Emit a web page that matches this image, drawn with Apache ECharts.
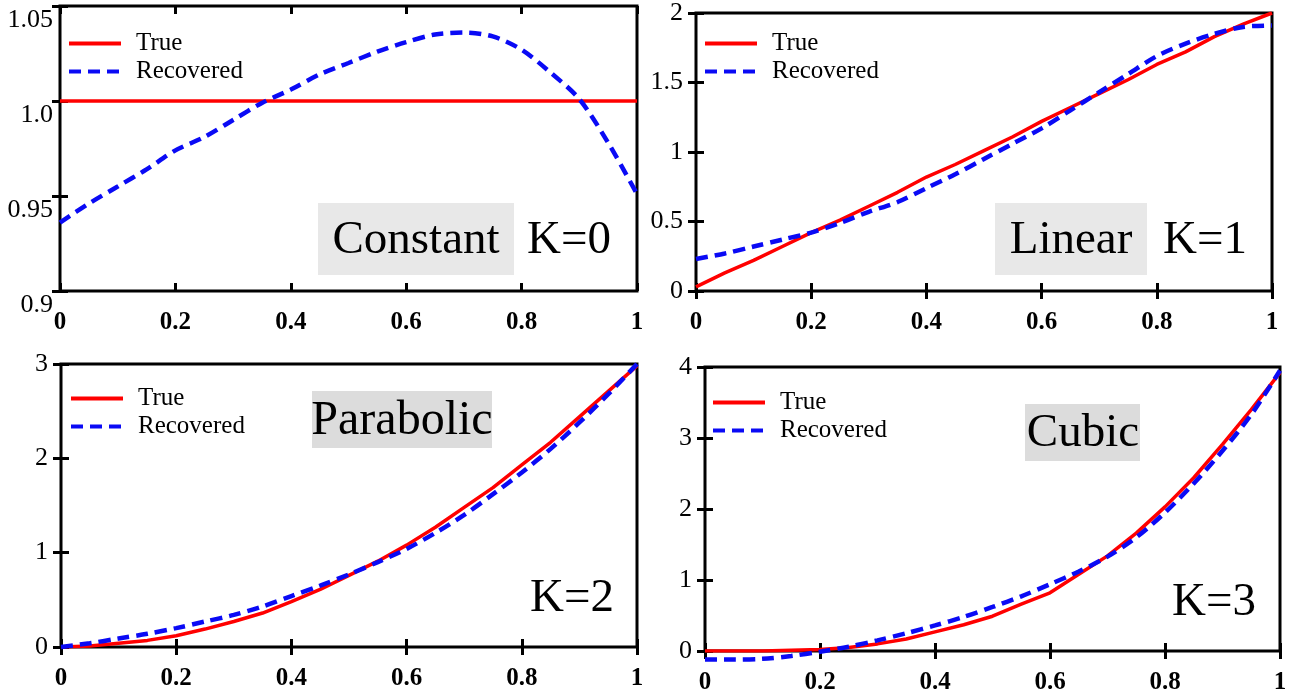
<!DOCTYPE html>
<html>
<head>
<meta charset="utf-8">
<script src="https://cdn.jsdelivr.net/npm/echarts@6/dist/echarts.min.js"></script>
<style>
html,body{margin:0;padding:0;background:#fff;}
#main{width:1297px;height:695px;}
</style>
</head>
<body>
<div id="main"></div>
<script>
// x positions shared by every panel
var xs = [0, 0.05, 0.1, 0.15, 0.2, 0.25, 0.3, 0.35, 0.4, 0.45, 0.5, 0.55, 0.6, 0.65, 0.7, 0.75, 0.8, 0.85, 0.9, 0.95, 1];
var xTicks = ['0', '0.2', '0.4', '0.6', '0.8', '1'];

// K=0 constant
var trueK0 = [1, 1, 1, 1, 1, 1, 1, 1, 1, 1, 1, 1, 1, 1, 1, 1, 1, 1, 1, 1, 1];
var recK0 = [0.936, 0.946, 0.955, 0.964, 0.974, 0.981, 0.990, 0.999, 1.006, 1.014, 1.020, 1.026, 1.031, 1.035, 1.036, 1.034, 1.027, 1.015, 1.001, 0.978, 0.951];
var yTicksK0 = ['0.9', '0.95', '1.0', '1.05'];

// K=1 linear
var trueK1 = [0.03, 0.13, 0.22, 0.32, 0.42, 0.51, 0.61, 0.71, 0.82, 0.91, 1.01, 1.11, 1.22, 1.32, 1.42, 1.52, 1.63, 1.72, 1.83, 1.92, 2.0];
var recK1 = [0.23, 0.27, 0.32, 0.37, 0.42, 0.49, 0.57, 0.64, 0.74, 0.84, 0.95, 1.06, 1.17, 1.30, 1.43, 1.56, 1.69, 1.78, 1.85, 1.90, 1.91];
var yTicksK1 = ['0', '0.5', '1', '1.5', '2'];

// K=2 parabolic
var trueK2 = [0, 0.01, 0.04, 0.07, 0.12, 0.19, 0.27, 0.36, 0.48, 0.61, 0.76, 0.91, 1.08, 1.27, 1.48, 1.69, 1.93, 2.17, 2.44, 2.71, 2.98];
var recK2 = [0, 0.04, 0.09, 0.14, 0.20, 0.27, 0.34, 0.43, 0.54, 0.65, 0.77, 0.90, 1.04, 1.21, 1.40, 1.62, 1.85, 2.10, 2.38, 2.68, 3.0];
var yTicksK2 = ['0', '1', '2', '3'];

// K=3 cubic
var trueK3 = [0, 0, 0, 0.01, 0.02, 0.05, 0.10, 0.17, 0.27, 0.37, 0.49, 0.66, 0.82, 1.08, 1.34, 1.66, 2.03, 2.44, 2.91, 3.40, 3.92];
var recK3 = [-0.12, -0.12, -0.11, -0.07, -0.01, 0.06, 0.15, 0.25, 0.36, 0.48, 0.62, 0.77, 0.94, 1.12, 1.33, 1.60, 1.95, 2.36, 2.82, 3.33, 3.95];
var yTicksK3 = ['0', '1', '2', '3', '4'];

var FONT = '"Liberation Serif", "DejaVu Serif", serif';

var panels = [
  { grid: { left: 60, top: 6, width: 577, height: 285 }, min: 0.9, max: 1.05, step: 0.05, ticks: yTicksK0, t: trueK0, r: recK0, topAlign: true, legend: { left: 67, top: 31 } },
  { grid: { left: 696, top: 7, width: 576, height: 284 }, min: 0, max: 2, step: 0.5, ticks: yTicksK1, t: trueK1, r: recK1, legend: { left: 703, top: 31 } },
  { grid: { left: 61, top: 364, width: 576, height: 283 }, min: 0, max: 3, step: 1, ticks: yTicksK2, t: trueK2, r: recK2, legend: { left: 69, top: 386 } },
  { grid: { left: 705, top: 367, width: 575, height: 285 }, min: 0, max: 4, step: 1, ticks: yTicksK3, t: trueK3, r: recK3, legend: { left: 711, top: 390 } }
];

function pairs(ys) {
  return xs.map(function (x, i) { return [x, ys[i]]; });
}

function tickLabel(list) {
  return function (v) {
    for (var i = 0; i < list.length; i++) {
      if (Math.abs(parseFloat(list[i]) - v) < 1e-6) return list[i];
    }
    return '';
  };
}

var grids = [], xAxes = [], yAxes = [], series = [], legends = [];
var tick = { show: true, inside: true, length: 8, lineStyle: { color: '#000', width: 3 } };

panels.forEach(function (p, i) {
  grids.push({ left: p.grid.left, top: p.grid.top, width: p.grid.width, height: p.grid.height,
    show: true, borderColor: '#000', borderWidth: 3, backgroundColor: '#fff' });

  xAxes.push({ type: 'value', gridIndex: i, min: 0, max: 1, interval: 0.2, position: 'bottom',
    axisLine: { show: false }, axisTick: tick, splitLine: { show: false },
    axisLabel: { margin: 19, fontFamily: FONT, fontSize: 25, fontWeight: 'bold', color: '#000', formatter: tickLabel(xTicks) } });
  xAxes.push({ type: 'value', gridIndex: i, min: 0, max: 1, interval: 0.2, position: 'top',
    axisLine: { show: false }, axisTick: tick, splitLine: { show: false }, axisLabel: { show: false } });

  yAxes.push({ type: 'value', gridIndex: i, min: p.min, max: p.max, interval: p.step, position: 'left',
    axisLine: { show: false }, axisTick: tick, splitLine: { show: false },
    axisLabel: { margin: p.topAlign ? 7 : 13, fontFamily: FONT, fontSize: 26, color: '#000',
      verticalAlign: p.topAlign ? 'top' : 'middle', padding: p.topAlign ? [1, 0, 0, 0] : 0,
      formatter: tickLabel(p.ticks) } });
  yAxes.push({ type: 'value', gridIndex: i, min: p.min, max: p.max, interval: p.step, position: 'right',
    axisLine: { show: false }, axisTick: tick, splitLine: { show: false }, axisLabel: { show: false } });

  series.push({ name: 'True', type: 'line', xAxisIndex: 2 * i, yAxisIndex: 2 * i, data: pairs(p.t),
    symbol: 'none', lineStyle: { color: '#ff0000', width: 3.5 }, itemStyle: { color: '#ff0000' }, z: 3 });
  series.push({ name: 'Recovered', type: 'line', xAxisIndex: 2 * i, yAxisIndex: 2 * i, data: pairs(p.r),
    symbol: 'none', smooth: 0.3, clip: false, lineStyle: { color: '#0a0af5', width: 4.5, type: [12, 7] }, itemStyle: { color: '#0a0af5' }, z: 4 });

  legends.push({ left: p.legend.left, top: p.legend.top, orient: 'vertical', padding: 0,
    itemWidth: 52, itemHeight: 14, itemGap: 3, data: ['True', 'Recovered'],
    itemStyle: { opacity: 0 },
    lineStyle: { width: 4 },
    textStyle: { fontFamily: FONT, fontSize: 25, color: '#000', padding: [0, 0, 0, 10] } });
});

function label(text, cx, cy, size, align) {
  return { type: 'text', x: cx, y: cy, z: 20,
    style: { text: text, font: size + 'px ' + FONT, fill: '#000', align: align || 'center', verticalAlign: 'middle' } };
}
function box(x, y, w, h, fill) {
  return { type: 'rect', shape: { x: x, y: y, width: w, height: h }, style: { fill: fill }, z: 19 };
}

var graphics = [
  box(318, 203, 196, 72, '#e8e8e8'), label('Constant', 416, 241, 47), label('K=0', 527, 241, 47, 'left'),
  box(995, 203, 152, 72, '#e8e8e8'), label('Linear', 1071, 241, 47), label('K=1', 1163, 241, 47, 'left'),
  box(312, 391, 180, 57, '#dcdcdc'), label('Parabolic', 402, 421, 48), label('K=2', 530, 599, 47, 'left'),
  box(1025, 404, 115, 57, '#dcdcdc'), label('Cubic', 1083, 434, 47), label('K=3', 1172, 603, 47, 'left')
];

var chart = echarts.init(document.getElementById('main'));
chart.setOption({
  animation: false,
  backgroundColor: '#fff',
  grid: grids,
  xAxis: xAxes,
  yAxis: yAxes,
  legend: legends,
  series: series,
  graphic: graphics
});
</script>
</body>
</html>
